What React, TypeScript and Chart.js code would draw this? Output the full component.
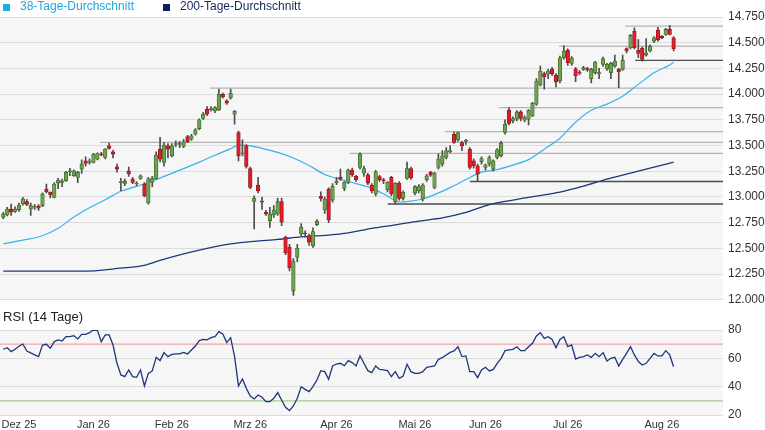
import { useEffect, useRef } from "react";
import { Chart, registerables, type Plugin } from "chart.js";

Chart.register(...registerables);

const FONT = "'Liberation Sans', Arial, Helvetica, sans-serif";

// daily candles, one per trading day (index 0 = late Nov 2025)
const candleOpen = [
  12802, 12825, 12883, 12860, 12873, 12932, 12954, 12883, 12900, 12909,
  12915, 13077, 13045, 12996, 13135, 13142, 13158, 13245, 13206, 13190,
  13271, 13352, 13336, 13336, 13368, 13420, 13384, 13497, 13439, 13294,
  13140, 13132, 13255, 13174, 13126, 13180, 13126, 12941, 13142, 13181,
  13465, 13336, 13497, 13400, 13510, 13512, 13491, 13588, 13562, 13610,
  13665, 13763, 13853, 13850, 13837, 13847, 13999, 13934, 13966, 13805,
  13627, 13420, 13497, 13277, 12957, 13116, 12960, 12851, 12770, 12825,
  12835, 12954, 12608, 12511, 12085, 12414, 12641, 12643, 12624, 12527,
  12731, 13006, 12877, 13077, 12970, 13140, 13190, 13083, 13142, 13261,
  13200, 13287, 13232, 13216, 13116, 13029, 13197, 13160, 13071, 13190,
  12954, 13135, 12987, 13180, 13277, 13038, 13061, 12980, 13168, 13239,
  13093, 13287, 13320, 13384, 13440, 13610, 13555, 13530, 13540, 13465,
  13352, 13303, 13342, 13287, 13320, 13271, 13384, 13400, 13627, 13843,
  13740, 13756, 13827, 13746, 13756, 13788, 13902, 14086, 14199, 14193,
  14241, 14186, 14128, 14354, 14425, 14299, 14247, 14210, 14241, 14248,
  14150, 14209, 14200, 14290, 14245, 14209, 14273, 14241, 14241, 14442,
  14451, 14613, 14429, 14445, 14380, 14419, 14516, 14623, 14564, 14581,
  14629, 14548,
];
const candleHigh = [
  12850, 12900, 12930, 12905, 12940, 12997, 12975, 12940, 12925, 12925,
  13040, 13125, 13050, 13140, 13180, 13175, 13250, 13278, 13265, 13250,
  13360, 13390, 13370, 13425, 13430, 13435, 13470, 13523, 13455, 13320,
  13180, 13175, 13290, 13190, 13150, 13215, 13140, 13190, 13200, 13440,
  13580, 13530, 13520, 13520, 13545, 13540, 13560, 13600, 13610, 13665,
  13760, 13820, 13880, 13880, 13880, 14050, 14010, 13945, 14050, 13840,
  13640, 13555, 13510, 13290, 13010, 13190, 13000, 12870, 12900, 12915,
  12990, 12990, 12620, 12540, 12400, 12540, 12740, 12670, 12640, 12700,
  12780, 13050, 13000, 13090, 13130, 13190, 13270, 13150, 13270, 13280,
  13210, 13430, 13300, 13230, 13130, 13260, 13210, 13180, 13150, 13200,
  13140, 13150, 13060, 13340, 13290, 13110, 13120, 13130, 13220, 13250,
  13240, 13420, 13450, 13480, 13500, 13630, 13630, 13540, 13560, 13480,
  13370, 13320, 13390, 13320, 13400, 13360, 13470, 13540, 13750, 13870,
  13780, 13840, 13840, 13790, 13850, 13920, 14150, 14273, 14215, 14240,
  14260, 14200, 14370, 14470, 14440, 14365, 14260, 14230, 14270, 14260,
  14250, 14320, 14250, 14360, 14300, 14310, 14380, 14250, 14380, 14450,
  14580, 14645, 14530, 14460, 14540, 14480, 14560, 14650, 14570, 14640,
  14668, 14560,
];
const candleLow = [
  12790, 12815, 12820, 12850, 12860, 12920, 12915, 12820, 12880, 12870,
  12905, 13040, 12990, 12990, 13080, 13100, 13150, 13206, 13200, 13140,
  13230, 13300, 13320, 13330, 13360, 13400, 13370, 13465, 13380, 13240,
  13060, 13110, 13200, 13130, 13110, 13170, 13000, 12930, 13100, 13170,
  13340, 13300, 13380, 13390, 13490, 13480, 13480, 13530, 13550, 13600,
  13655, 13755, 13790, 13835, 13820, 13840, 13960, 13900, 13950, 13708,
  13350, 13400, 13280, 13080, 12690, 13040, 12880, 12820, 12705, 12800,
  12820, 12720, 12440, 12280, 12043, 12370, 12620, 12610, 12530, 12510,
  12720, 12960, 12840, 12750, 12950, 13120, 13160, 13060, 13130, 13200,
  13150, 13270, 13200, 13120, 13040, 13010, 13150, 13130, 13050, 13010,
  12932, 12970, 12970, 13170, 13170, 13020, 13040, 12960, 13150, 13200,
  13080, 13270, 13300, 13370, 13430, 13520, 13540, 13450, 13510, 13270,
  13280, 13150, 13320, 13260, 13300, 13250, 13370, 13390, 13610, 13700,
  13720, 13740, 13740, 13730, 13700, 13780, 13890, 14080, 14047, 14150,
  14180, 14070, 14110, 14340, 14280, 14280, 14120, 14190, 14230, 14220,
  14110, 14195, 14150, 14270, 14230, 14150, 14260, 14063, 14230, 14400,
  14440, 14440, 14355, 14320, 14370, 14410, 14500, 14515, 14540, 14570,
  14575, 14419,
];
const candleClose = [
  12835, 12883, 12851, 12883, 12922, 12980, 12928, 12915, 12905, 12890,
  13029, 13051, 13022, 13126, 13164, 13158, 13239, 13248, 13255, 13239,
  13320, 13326, 13352, 13417, 13423, 13410, 13465, 13472, 13417, 13271,
  13148, 13151, 13223, 13142, 13130, 13206, 13012, 13174, 13181, 13407,
  13368, 13504, 13465, 13497, 13515, 13514, 13536, 13536, 13594, 13653,
  13750, 13805, 13805, 13855, 13869, 13999, 13976, 13911, 14008, 13834,
  13400, 13430, 13297, 13093, 12990, 13061, 12950, 12835, 12835, 12873,
  12954, 12754, 12456, 12311, 12376, 12502, 12705, 12640, 12560, 12663,
  12763, 12987, 12980, 12780, 13103, 13155, 13174, 13142, 13261, 13216,
  13168, 13417, 13277, 13135, 13061, 13245, 13168, 13158, 13142, 13029,
  13132, 12987, 13045, 13277, 13184, 13100, 13100, 13116, 13206, 13213,
  13232, 13368, 13400, 13449, 13450, 13530, 13627, 13497, 13545, 13287,
  13303, 13222, 13374, 13313, 13384, 13352, 13459, 13523, 13708, 13714,
  13763, 13827, 13763, 13772, 13843, 13911, 14128, 14225, 14170, 14225,
  14199, 14118, 14354, 14419, 14306, 14354, 14176, 14205, 14257, 14235,
  14241, 14312, 14210, 14345, 14290, 14299, 14322, 14215, 14328, 14419,
  14571, 14451, 14396, 14338, 14400, 14467, 14548, 14526, 14548, 14629,
  14581, 14442,
];

const rsiValues = [
  66.4, 67.5, 64.7, 66.4, 68.5, 70.1, 65.2, 63.8, 62.5, 61.2,
  69.4, 69.9, 67.1, 71.8, 73, 72.2, 75.3, 75.3, 76, 73.7,
  76.9, 76.9, 78.1, 80, 79.8, 71.8, 76.5, 76.5, 69.4, 56.5,
  48.3, 47.1, 51.8, 47.1, 46.6, 51.8, 40.5, 49.4, 51.1, 60.7,
  58.4, 64, 61.2, 62.8, 63.1, 63.1, 64.2, 63.1, 65.9, 68.7,
  72.5, 73.4, 73, 74.6, 75.3, 78.8, 77.2, 71.1, 74.6, 61.2,
  40.5, 45.4, 38.8, 33.4, 31.3, 34.1, 32.5, 29.4, 29.4, 31.8,
  35.8, 30.6, 25.4, 23.1, 26.4, 31.8, 40, 38.1, 36.5, 40,
  44.7, 51.3, 50.6, 45.2, 54.6, 56, 56.5, 54.8, 58.4, 57,
  54.6, 61.7, 56.5, 51.3, 49.9, 54.6, 52.2, 51.8, 51.3, 47.1,
  50.6, 45.9, 47.5, 55.8, 50.6, 49.4, 49.4, 50.6, 53.7, 54.1,
  54.6, 59.3, 60.5, 62.4, 64.2, 65.2, 68.2, 61.2, 61.7, 50.6,
  50.6, 46.4, 51.8, 53.7, 51.1, 52.2, 56.5, 60, 65.4, 65.9,
  66.4, 68.2, 65.4, 65.4, 68.2, 70.6, 75.8, 78.1, 74.1, 75.3,
  73.4, 67.5, 73.4, 75.3, 68.2, 69.4, 59.5, 60.7, 61.2, 62.4,
  60.7, 63.5, 61.2, 64, 58.1, 60, 60.7, 54.6, 59.3, 63.5,
  68.2, 62.4, 57.7, 55.3, 56.5, 60, 63.5, 61.7, 61.7, 65.4,
  62.4, 54.1,
];

// moving averages, read at these candle indices
const ma38Idx = [0, 5, 10, 14, 18, 22, 26, 30, 34, 38, 42, 46, 50, 54, 58, 60, 62, 66, 70, 74, 78, 82, 86, 90, 94, 98, 101, 104, 107, 110, 114, 118, 122, 126, 130, 134, 138, 142, 146, 150, 154, 158, 162, 166, 170, 171];
const ma38Val = [12543, 12580, 12623, 12695, 12806, 12896, 12973, 13056, 13103, 13155, 13215, 13276, 13339, 13406, 13470, 13504, 13502, 13473, 13433, 13379, 13306, 13219, 13171, 13130, 13086, 13009, 12951, 12960, 12980, 13023, 13091, 13169, 13242, 13266, 13310, 13363, 13465, 13571, 13727, 13843, 13903, 13979, 14095, 14207, 14284, 14309];
const ma200Idx = [0, 20, 30, 36, 40, 46, 52, 58, 64, 70, 76, 82, 88, 94, 100, 106, 112, 118, 124, 130, 136, 142, 148, 154, 160, 166, 171];
const ma200Val = [12278, 12278, 12308, 12335, 12383, 12446, 12500, 12543, 12569, 12587, 12611, 12626, 12650, 12694, 12728, 12766, 12796, 12849, 12926, 12970, 13009, 13048, 13106, 13174, 13232, 13290, 13339];

// support (S) / resistance (R) levels and the candle index they start at
const levelValue = [14661, 14467, 14328, 14059, 13869, 13636, 13530, 13424, 13151, 12931];
const levelStart = [158.6, 141.8, 161.2, 52.7, 126.5, 112.7, 24.7, 88.4, 119, 98.1];
const levelKind = ["R", "R", "S", "R", "R", "R", "R", "R", "S", "S"];

const priceTicks = [12000, 12250, 12500, 12750, 13000, 13250, 13500, 13750, 14000, 14250, 14500, 14750];
const rsiTicks = [20, 40, 60, 80];
const rsiBands = [70, 30];

const monthIdx = [4, 23, 43, 63, 85, 105, 123, 144, 168];
const monthLabels = ["Dez 25", "Jan 26", "Feb 26", "Mrz 26", "Apr 26", "Mai 26", "Jun 26", "Jul 26", "Aug 26"];

const X_MIN = -0.84;
const X_MAX = 183.6;

const fmtPrice = (v: number) => {
  const t = Math.floor(v / 1000);
  const r = String(Math.round(v % 1000)).padStart(3, "0");
  return `${t}.${r}`;
};

const panelBg: Plugin = {
  id: "panelBg",
  beforeDraw(chart) {
    const { ctx, chartArea: a } = chart;
    ctx.save();
    ctx.fillStyle = "#f6f6f6";
    ctx.fillRect(a.left, a.top, a.right - a.left, a.bottom - a.top);
    ctx.restore();
  },
};

export default function App() {
  const priceRef = useRef<HTMLCanvasElement | null>(null);
  const rsiRef = useRef<HTMLCanvasElement | null>(null);

  useEffect(() => {
    if (!priceRef.current || !rsiRef.current) return;

    const idx = candleOpen.map((_, i) => i);
    const up = idx.map((i) => candleClose[i] >= candleOpen[i]);

    const levelSets = levelValue.map((v, k) => ({
      type: "line",
      data: [
        { x: levelStart[k], y: v },
        { x: X_MAX, y: v },
      ],
      borderColor: levelKind[k] === "S" ? "#4d4d4d" : "#b3b3b3",
      borderWidth: levelKind[k] === "S" ? 1.4 : 1.2,
      pointRadius: 0,
      order: 3,
    }));

    const priceChart = new Chart(priceRef.current, {
      type: "bar",
      data: {
        datasets: [
          {
            type: "bar",
            data: idx.map((i) => ({ x: i, y: [candleOpen[i], candleClose[i]] })),
            backgroundColor: up.map((u) => (u ? "#6fa34f" : "#e8172b")),
            borderColor: up.map((u) => (u ? "#3b6829" : "#8e1a1d")),
            borderWidth: 0.8,
            borderSkipped: false,
            barThickness: 3.6,
            minBarLength: 1,
            grouped: false,
            order: 0,
          },
          {
            type: "bar",
            data: idx.map((i) => ({ x: i, y: [candleLow[i], candleHigh[i]] })),
            backgroundColor: "#4d4d4d",
            barThickness: 1,
            grouped: false,
            order: 1,
          },
          {
            type: "line",
            data: ma38Idx.map((x, k) => ({ x, y: ma38Val[k] })),
            borderColor: "#34b4ea",
            borderWidth: 1.2,
            pointRadius: 0,
            cubicInterpolationMode: "monotone",
            order: 2,
          },
          {
            type: "line",
            data: ma200Idx.map((x, k) => ({ x, y: ma200Val[k] })),
            borderColor: "#1d377a",
            borderWidth: 1.3,
            pointRadius: 0,
            cubicInterpolationMode: "monotone",
            order: 2,
          },
          ...levelSets,
        ] as any,
      },
      options: {
        animation: false,
        responsive: false,
        maintainAspectRatio: false,
        layout: { padding: { top: 17, bottom: 10, left: 0, right: 0 } },
        plugins: { legend: { display: false }, tooltip: { enabled: false } },
        events: [],
        scales: {
          x: {
            type: "linear",
            min: X_MIN,
            max: X_MAX,
            offset: false,
            display: false,
            grid: { offset: false },
            ticks: { display: false },
            afterFit: (s: any) => {
              s.height = 0;
            },
          },
          y: {
            position: "right",
            min: 12000,
            max: 14750,
            afterBuildTicks: (s: any) => {
              s.ticks = priceTicks.map((value) => ({ value }));
            },
            afterFit: (s: any) => {
              s.width = 42;
            },
            grid: { color: "#dcdcdc", drawTicks: false },
            border: { display: false },
            ticks: {
              padding: 5,
              color: "#333",
              font: { family: FONT, size: 12 },
              callback: (v: any) => fmtPrice(Number(v)),
            },
          },
        },
      } as any,
      plugins: [panelBg],
    });

    const rsiChart = new Chart(rsiRef.current, {
      type: "line",
      data: {
        datasets: [
          {
            data: idx.map((i) => ({ x: i, y: rsiValues[i] })),
            borderColor: "#1d377a",
            borderWidth: 1.3,
            pointRadius: 0,
            order: 0,
          },
          ...rsiBands.map((v, k) => ({
            data: [
              { x: X_MIN, y: v },
              { x: X_MAX, y: v },
            ],
            borderColor: k === 0 ? "#f3a2a7" : "#a8cb91",
            borderWidth: 1.3,
            pointRadius: 0,
            order: 1,
          })),
        ],
      },
      options: {
        animation: false,
        responsive: false,
        maintainAspectRatio: false,
        layout: { padding: { top: 30, bottom: 0, left: 0, right: 0 } },
        plugins: { legend: { display: false }, tooltip: { enabled: false } },
        events: [],
        scales: {
          x: {
            type: "linear",
            min: X_MIN,
            max: X_MAX,
            offset: false,
            grid: { display: false, drawTicks: false },
            border: { display: false },
            afterBuildTicks: (s: any) => {
              s.ticks = monthIdx.map((value) => ({ value }));
            },
            afterFit: (s: any) => {
              s.height = 15;
              s.paddingLeft = 0;
              s.paddingRight = 0;
            },
            ticks: {
              autoSkip: false,
              maxRotation: 0,
              padding: 3,
              color: "#333",
              font: { family: FONT, size: 11 },
              callback: (_v: any, i: number) => monthLabels[i],
            },
          },
          y: {
            position: "right",
            min: 20,
            max: 80,
            afterBuildTicks: (s: any) => {
              s.ticks = rsiTicks.map((value) => ({ value }));
            },
            afterFit: (s: any) => {
              s.width = 42;
            },
            grid: { color: "#dcdcdc", drawTicks: false },
            border: { display: false },
            ticks: {
              padding: 5,
              color: "#333",
              font: { family: FONT, size: 12 },
            },
          },
        },
      } as any,
      plugins: [panelBg],
    });

    return () => {
      priceChart.destroy();
      rsiChart.destroy();
    };
  }, []);

  const legendText = { position: "absolute" as const, top: -1, fontSize: 12, lineHeight: "14px", whiteSpace: "nowrap" as const };

  return (
    <div
      style={{
        position: "fixed",
        left: 0,
        top: 0,
        width: 765,
        height: 430,
        background: "#fff",
        fontFamily: FONT,
        overflow: "hidden",
      }}
    >
      <canvas ref={priceRef} width={765} height={312} style={{ position: "absolute", left: 0, top: 0 }} />
      <canvas ref={rsiRef} width={765} height={130} style={{ position: "absolute", left: 0, top: 300 }} />

      <div style={{ position: "absolute", left: 3, top: 3.5, width: 7, height: 7, background: "#1aaee8" }} />
      <div style={{ ...legendText, left: 20, color: "#1ea6df" }}>38-Tage-Durchschnitt</div>
      <div style={{ position: "absolute", left: 163, top: 3.5, width: 7, height: 7, background: "#0c215e" }} />
      <div style={{ ...legendText, left: 180, color: "#16265f" }}>200-Tage-Durchschnitt</div>

      <div
        style={{
          position: "absolute",
          left: 3,
          top: 309,
          fontSize: 13,
          lineHeight: "15px",
          color: "#222",
          whiteSpace: "nowrap",
        }}
      >
        RSI (14 Tage)
      </div>
    </div>
  );
}
